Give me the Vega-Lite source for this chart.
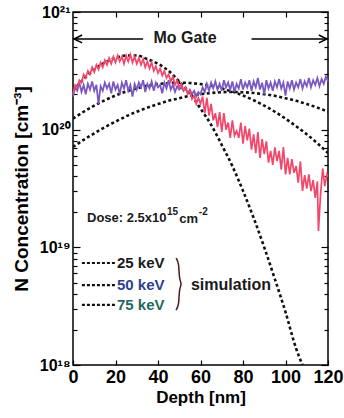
{
  "$schema": "https://vega.github.io/schema/vega-lite/v6.json",
  "width": 255,
  "height": 353,
  "autosize": {"type": "none"},
  "padding": {"left": 73, "top": 12, "right": 16, "bottom": 53},
  "background": "white",
  "config": {
    "view": {"stroke": "black", "strokeWidth": 1.5},
    "font": "Liberation Sans",
    "axis": {"domain": false, "grid": false, "tickColor": "black", "tickWidth": 1.2, "labelColor": "black", "titleColor": "black", "labelFont": "Liberation Sans", "titleFont": "Liberation Sans"}
  },
  "datasets": {
    "red": [
      {"depth": 0, "N": 2.00e20}, {"depth": 1, "N": 2.40e20}, {"depth": 2, "N": 2.29e20}, {"depth": 3, "N": 2.63e20}, {"depth": 4, "N": 2.51e20},
      {"depth": 5, "N": 2.95e20}, {"depth": 6, "N": 2.75e20}, {"depth": 7, "N": 3.16e20}, {"depth": 8, "N": 2.95e20}, {"depth": 9, "N": 3.39e20},
      {"depth": 10, "N": 3.09e20}, {"depth": 11, "N": 3.55e20}, {"depth": 12, "N": 3.24e20}, {"depth": 13, "N": 3.72e20}, {"depth": 14, "N": 3.39e20},
      {"depth": 15, "N": 3.89e20}, {"depth": 16, "N": 3.55e20}, {"depth": 17, "N": 4.07e20}, {"depth": 18, "N": 3.63e20}, {"depth": 19, "N": 4.17e20},
      {"depth": 20, "N": 3.72e20}, {"depth": 21, "N": 4.27e20}, {"depth": 22, "N": 3.80e20}, {"depth": 23, "N": 4.17e20}, {"depth": 24, "N": 3.63e20},
      {"depth": 25, "N": 4.27e20}, {"depth": 26, "N": 3.80e20}, {"depth": 27, "N": 4.37e20}, {"depth": 28, "N": 3.72e20}, {"depth": 29, "N": 4.17e20},
      {"depth": 30, "N": 3.63e20}, {"depth": 31, "N": 4.07e20}, {"depth": 32, "N": 3.55e20}, {"depth": 33, "N": 3.98e20}, {"depth": 34, "N": 3.39e20},
      {"depth": 35, "N": 3.80e20}, {"depth": 36, "N": 3.31e20}, {"depth": 37, "N": 3.72e20}, {"depth": 38, "N": 3.16e20}, {"depth": 39, "N": 3.47e20},
      {"depth": 40, "N": 3.02e20}, {"depth": 41, "N": 3.31e20}, {"depth": 42, "N": 2.88e20}, {"depth": 43, "N": 3.16e20}, {"depth": 44, "N": 2.75e20},
      {"depth": 45, "N": 2.95e20}, {"depth": 46, "N": 2.57e20}, {"depth": 47, "N": 2.82e20}, {"depth": 48, "N": 2.40e20}, {"depth": 49, "N": 2.63e20},
      {"depth": 50, "N": 2.29e20}, {"depth": 51, "N": 2.45e20}, {"depth": 52, "N": 2.14e20}, {"depth": 53, "N": 2.29e20}, {"depth": 54, "N": 2.00e20},
      {"depth": 55, "N": 2.14e20}, {"depth": 56, "N": 1.82e20}, {"depth": 57, "N": 1.95e20}, {"depth": 58, "N": 1.66e20}, {"depth": 59, "N": 1.86e20},
      {"depth": 60, "N": 1.66e20}, {"depth": 61, "N": 1.91e20}, {"depth": 62, "N": 1.38e20}, {"depth": 63, "N": 1.86e20}, {"depth": 64, "N": 1.32e20},
      {"depth": 65, "N": 1.66e20}, {"depth": 66, "N": 1.20e20}, {"depth": 67, "N": 1.38e20}, {"depth": 68, "N": 1.05e20}, {"depth": 69, "N": 1.41e20},
      {"depth": 70, "N": 9.55e19}, {"depth": 71, "N": 1.38e20}, {"depth": 72, "N": 1.00e20}, {"depth": 73, "N": 1.15e20}, {"depth": 74, "N": 8.51e19},
      {"depth": 75, "N": 1.20e20}, {"depth": 76, "N": 8.90e19}, {"depth": 77, "N": 9.77e19}, {"depth": 78, "N": 8.51e19}, {"depth": 79, "N": 1.15e20},
      {"depth": 80, "N": 7.59e19}, {"depth": 81, "N": 1.07e20}, {"depth": 82, "N": 8.10e19}, {"depth": 83, "N": 1.02e20}, {"depth": 84, "N": 6.76e19},
      {"depth": 85, "N": 9.12e19}, {"depth": 86, "N": 6.31e19}, {"depth": 87, "N": 9.55e19}, {"depth": 88, "N": 5.75e19}, {"depth": 89, "N": 8.32e19},
      {"depth": 90, "N": 6.20e19}, {"depth": 91, "N": 7.94e19}, {"depth": 92, "N": 5.25e19}, {"depth": 93, "N": 6.60e19}, {"depth": 94, "N": 5.01e19},
      {"depth": 95, "N": 7.08e19}, {"depth": 96, "N": 5.40e19}, {"depth": 97, "N": 6.61e19}, {"depth": 98, "N": 4.57e19}, {"depth": 99, "N": 7.10e19},
      {"depth": 100, "N": 4.17e19}, {"depth": 101, "N": 5.75e19}, {"depth": 102, "N": 4.17e19}, {"depth": 103, "N": 5.62e19}, {"depth": 104, "N": 4.30e19},
      {"depth": 105, "N": 4.90e19}, {"depth": 106, "N": 3.55e19}, {"depth": 107, "N": 5.37e19}, {"depth": 108, "N": 3.02e19}, {"depth": 109, "N": 4.10e19},
      {"depth": 110, "N": 3.16e19}, {"depth": 111, "N": 4.17e19}, {"depth": 112, "N": 3.00e19}, {"depth": 113, "N": 3.72e19}, {"depth": 114, "N": 2.63e19},
      {"depth": 115, "N": 3.63e19}, {"depth": 115.5, "N": 1.38e19}, {"depth": 116.5, "N": 2.82e19}, {"depth": 117.5, "N": 4.68e19}, {"depth": 118.5, "N": 3.31e19},
      {"depth": 119.5, "N": 4.17e19}, {"depth": 120, "N": 3.98e19}
    ],
    "purple": [
      {"depth": 0, "N": 1.91e20}, {"depth": 1, "N": 2.29e20}, {"depth": 2, "N": 2.14e20}, {"depth": 3, "N": 2.51e20}, {"depth": 4, "N": 2.09e20},
      {"depth": 5, "N": 2.40e20}, {"depth": 6, "N": 2.00e20}, {"depth": 7, "N": 2.45e20}, {"depth": 8, "N": 2.19e20}, {"depth": 9, "N": 2.57e20},
      {"depth": 10, "N": 2.14e20}, {"depth": 11, "N": 2.40e20}, {"depth": 12, "N": 1.66e20}, {"depth": 13, "N": 2.34e20}, {"depth": 14, "N": 2.14e20},
      {"depth": 15, "N": 2.51e20}, {"depth": 16, "N": 2.24e20}, {"depth": 17, "N": 2.45e20}, {"depth": 18, "N": 2.04e20}, {"depth": 19, "N": 2.57e20},
      {"depth": 20, "N": 2.19e20}, {"depth": 21, "N": 2.40e20}, {"depth": 22, "N": 2.00e20}, {"depth": 23, "N": 2.51e20}, {"depth": 24, "N": 2.24e20},
      {"depth": 25, "N": 2.63e20}, {"depth": 26, "N": 2.14e20}, {"depth": 27, "N": 2.40e20}, {"depth": 28, "N": 1.91e20}, {"depth": 29, "N": 2.45e20},
      {"depth": 30, "N": 2.19e20}, {"depth": 31, "N": 2.51e20}, {"depth": 32, "N": 2.29e20}, {"depth": 33, "N": 2.63e20}, {"depth": 34, "N": 2.09e20},
      {"depth": 35, "N": 2.45e20}, {"depth": 36, "N": 2.24e20}, {"depth": 37, "N": 2.57e20}, {"depth": 38, "N": 2.14e20}, {"depth": 39, "N": 2.51e20},
      {"depth": 40, "N": 2.29e20}, {"depth": 41, "N": 2.40e20}, {"depth": 42, "N": 2.04e20}, {"depth": 43, "N": 2.51e20}, {"depth": 44, "N": 2.24e20},
      {"depth": 45, "N": 2.63e20}, {"depth": 46, "N": 2.19e20}, {"depth": 47, "N": 2.40e20}, {"depth": 48, "N": 2.09e20}, {"depth": 49, "N": 2.34e20},
      {"depth": 50, "N": 2.19e20}, {"depth": 51, "N": 2.29e20}, {"depth": 52, "N": 2.14e20}, {"depth": 53, "N": 2.24e20}, {"depth": 54, "N": 2.04e20},
      {"depth": 55, "N": 2.19e20}, {"depth": 56, "N": 2.00e20}, {"depth": 57, "N": 2.14e20}, {"depth": 58, "N": 1.91e20}, {"depth": 59, "N": 2.09e20},
      {"depth": 60, "N": 2.00e20}, {"depth": 61, "N": 2.29e20}, {"depth": 62, "N": 2.09e20}, {"depth": 63, "N": 2.45e20}, {"depth": 64, "N": 2.14e20},
      {"depth": 65, "N": 2.51e20}, {"depth": 66, "N": 2.24e20}, {"depth": 67, "N": 2.57e20}, {"depth": 68, "N": 2.19e20}, {"depth": 69, "N": 2.45e20},
      {"depth": 70, "N": 2.14e20}, {"depth": 71, "N": 2.63e20}, {"depth": 72, "N": 2.29e20}, {"depth": 73, "N": 2.51e20}, {"depth": 74, "N": 2.19e20},
      {"depth": 75, "N": 2.57e20}, {"depth": 76, "N": 2.09e20}, {"depth": 77, "N": 2.45e20}, {"depth": 78, "N": 2.24e20}, {"depth": 79, "N": 2.69e20},
      {"depth": 80, "N": 2.19e20}, {"depth": 81, "N": 2.51e20}, {"depth": 82, "N": 2.29e20}, {"depth": 83, "N": 2.63e20}, {"depth": 84, "N": 2.14e20},
      {"depth": 85, "N": 2.57e20}, {"depth": 86, "N": 2.29e20}, {"depth": 87, "N": 2.75e20}, {"depth": 88, "N": 2.19e20}, {"depth": 89, "N": 2.51e20},
      {"depth": 90, "N": 2.00e20}, {"depth": 91, "N": 2.63e20}, {"depth": 92, "N": 2.24e20}, {"depth": 93, "N": 2.51e20}, {"depth": 94, "N": 2.14e20},
      {"depth": 95, "N": 2.57e20}, {"depth": 96, "N": 2.29e20}, {"depth": 97, "N": 2.69e20}, {"depth": 98, "N": 2.24e20}, {"depth": 99, "N": 2.51e20},
      {"depth": 100, "N": 1.95e20}, {"depth": 101, "N": 2.57e20}, {"depth": 102, "N": 2.24e20}, {"depth": 103, "N": 2.63e20}, {"depth": 104, "N": 2.19e20},
      {"depth": 105, "N": 2.51e20}, {"depth": 106, "N": 2.29e20}, {"depth": 107, "N": 2.69e20}, {"depth": 108, "N": 2.24e20}, {"depth": 109, "N": 2.57e20},
      {"depth": 110, "N": 2.34e20}, {"depth": 111, "N": 2.75e20}, {"depth": 112, "N": 2.29e20}, {"depth": 113, "N": 2.63e20}, {"depth": 114, "N": 2.40e20},
      {"depth": 115, "N": 2.75e20}, {"depth": 116, "N": 2.34e20}, {"depth": 117, "N": 2.69e20}, {"depth": 118, "N": 2.45e20}, {"depth": 119, "N": 2.82e20},
      {"depth": 120, "N": 2.57e20}
    ],
    "sim": [
      {"E": "25 keV", "depth": 0, "N": 2.14e20}, {"E": "25 keV", "depth": 5, "N": 2.69e20}, {"E": "25 keV", "depth": 10, "N": 3.24e20},
      {"E": "25 keV", "depth": 15, "N": 3.72e20}, {"E": "25 keV", "depth": 20, "N": 4.07e20}, {"E": "25 keV", "depth": 25, "N": 4.27e20},
      {"E": "25 keV", "depth": 30, "N": 4.27e20}, {"E": "25 keV", "depth": 35, "N": 3.98e20}, {"E": "25 keV", "depth": 40, "N": 3.63e20},
      {"E": "25 keV", "depth": 45, "N": 3.16e20}, {"E": "25 keV", "depth": 50, "N": 2.57e20}, {"E": "25 keV", "depth": 55, "N": 2.04e20},
      {"E": "25 keV", "depth": 60, "N": 1.51e20}, {"E": "25 keV", "depth": 65, "N": 1.10e20}, {"E": "25 keV", "depth": 70, "N": 7.41e19},
      {"E": "25 keV", "depth": 75, "N": 4.90e19}, {"E": "25 keV", "depth": 80, "N": 3.02e19}, {"E": "25 keV", "depth": 85, "N": 1.78e19},
      {"E": "25 keV", "depth": 90, "N": 1.00e19}, {"E": "25 keV", "depth": 95, "N": 5.37e18}, {"E": "25 keV", "depth": 100, "N": 2.82e18},
      {"E": "25 keV", "depth": 105, "N": 1.38e18}, {"E": "25 keV", "depth": 108, "N": 1.00e18},
      {"E": "50 keV", "depth": 0, "N": 1.24e20}, {"E": "50 keV", "depth": 5, "N": 1.42e20}, {"E": "50 keV", "depth": 10, "N": 1.60e20},
      {"E": "50 keV", "depth": 15, "N": 1.78e20}, {"E": "50 keV", "depth": 20, "N": 1.95e20}, {"E": "50 keV", "depth": 25, "N": 2.11e20},
      {"E": "50 keV", "depth": 30, "N": 2.24e20}, {"E": "50 keV", "depth": 35, "N": 2.36e20}, {"E": "50 keV", "depth": 40, "N": 2.44e20},
      {"E": "50 keV", "depth": 45, "N": 2.49e20}, {"E": "50 keV", "depth": 50, "N": 2.51e20}, {"E": "50 keV", "depth": 55, "N": 2.49e20},
      {"E": "50 keV", "depth": 60, "N": 2.44e20}, {"E": "50 keV", "depth": 65, "N": 2.36e20}, {"E": "50 keV", "depth": 70, "N": 2.24e20},
      {"E": "50 keV", "depth": 75, "N": 2.11e20}, {"E": "50 keV", "depth": 80, "N": 1.95e20}, {"E": "50 keV", "depth": 85, "N": 1.78e20},
      {"E": "50 keV", "depth": 90, "N": 1.60e20}, {"E": "50 keV", "depth": 95, "N": 1.42e20}, {"E": "50 keV", "depth": 100, "N": 1.24e20},
      {"E": "50 keV", "depth": 105, "N": 1.07e20}, {"E": "50 keV", "depth": 110, "N": 9.14e19}, {"E": "50 keV", "depth": 115, "N": 7.67e19},
      {"E": "50 keV", "depth": 120, "N": 6.34e19},
      {"E": "75 keV", "depth": 0, "N": 7.13e19}, {"E": "75 keV", "depth": 5, "N": 8.19e19}, {"E": "75 keV", "depth": 10, "N": 9.31e19},
      {"E": "75 keV", "depth": 15, "N": 1.05e20}, {"E": "75 keV", "depth": 20, "N": 1.17e20}, {"E": "75 keV", "depth": 25, "N": 1.30e20},
      {"E": "75 keV", "depth": 30, "N": 1.42e20}, {"E": "75 keV", "depth": 35, "N": 1.54e20}, {"E": "75 keV", "depth": 40, "N": 1.65e20},
      {"E": "75 keV", "depth": 45, "N": 1.76e20}, {"E": "75 keV", "depth": 50, "N": 1.85e20}, {"E": "75 keV", "depth": 55, "N": 1.94e20},
      {"E": "75 keV", "depth": 60, "N": 2.00e20}, {"E": "75 keV", "depth": 65, "N": 2.05e20}, {"E": "75 keV", "depth": 70, "N": 2.08e20},
      {"E": "75 keV", "depth": 75, "N": 2.09e20}, {"E": "75 keV", "depth": 80, "N": 2.08e20}, {"E": "75 keV", "depth": 85, "N": 2.05e20},
      {"E": "75 keV", "depth": 90, "N": 2.00e20}, {"E": "75 keV", "depth": 95, "N": 1.94e20}, {"E": "75 keV", "depth": 100, "N": 1.85e20},
      {"E": "75 keV", "depth": 105, "N": 1.76e20}, {"E": "75 keV", "depth": 110, "N": 1.65e20}, {"E": "75 keV", "depth": 115, "N": 1.54e20},
      {"E": "75 keV", "depth": 120, "N": 1.42e20}
    ],
    "arrows": [
      {"part": "left", "i": 0, "depth": 0.5, "N": 5.9e20}, {"part": "left", "i": 1, "depth": 33, "N": 5.9e20},
      {"part": "leftHead", "i": 0, "depth": 4.3, "N": 6.38e20}, {"part": "leftHead", "i": 1, "depth": 0.5, "N": 5.9e20}, {"part": "leftHead", "i": 2, "depth": 4.3, "N": 5.46e20},
      {"part": "right", "i": 0, "depth": 84, "N": 5.9e20}, {"part": "right", "i": 1, "depth": 119.5, "N": 5.9e20},
      {"part": "rightHead", "i": 0, "depth": 115.7, "N": 6.38e20}, {"part": "rightHead", "i": 1, "depth": 119.5, "N": 5.9e20}, {"part": "rightHead", "i": 2, "depth": 115.7, "N": 5.46e20}
    ],
    "legendDashes": [
      {"E": "25 keV", "i": 0, "depth": 4.2, "N": 7.36e18}, {"E": "25 keV", "i": 1, "depth": 19.8, "N": 7.36e18},
      {"E": "50 keV", "i": 0, "depth": 4.2, "N": 4.78e18}, {"E": "50 keV", "i": 1, "depth": 19.8, "N": 4.78e18},
      {"E": "75 keV", "i": 0, "depth": 4.2, "N": 3.24e18}, {"E": "75 keV", "i": 1, "depth": 19.8, "N": 3.24e18}
    ],
    "legendText": [
      {"E": "25 keV", "depth": 20.7, "N": 7.36e18},
      {"E": "50 keV", "depth": 20.7, "N": 4.78e18},
      {"E": "75 keV", "depth": 20.7, "N": 3.24e18}
    ],
    "brace": [
      {"i": 0, "depth": 48.5, "N": 8.11e18}, {"i": 1, "depth": 49.9, "N": 7.36e18}, {"i": 2, "depth": 49.9, "N": 5.38e18},
      {"i": 3, "depth": 51.3, "N": 4.88e18}, {"i": 4, "depth": 49.9, "N": 4.43e18}, {"i": 5, "depth": 49.9, "N": 3.24e18},
      {"i": 6, "depth": 48.5, "N": 2.93e18}
    ],
    "title": [
      {"t": "Mo Gate", "depth": 52.7, "N": 6.0e20}
    ],
    "notes": [
      {"t": "simulation", "depth": 55.5, "N": 4.83e18, "size": 16},
      {"t": "Dose: 2.5x10", "depth": 6.6, "N": 1.77e19, "size": 13},
      {"t": "cm", "depth": 50.0, "N": 1.74e19, "size": 13}
    ],
    "supers": [
      {"t": "15", "depth": 44.2, "N": 1.98e19},
      {"t": "-2", "depth": 59.2, "N": 1.98e19}
    ]
  },
  "encoding": {
    "x": {"field": "depth", "type": "quantitative", "scale": {"domain": [0, 120], "nice": false, "zero": false}, "axis": null},
    "y": {"field": "N", "type": "quantitative", "scale": {"type": "log", "domain": [1e18, 1e21], "nice": false}, "axis": null}
  },
  "layer": [
    {
      "data": {"name": "sim"},
      "mark": {"type": "line", "color": "#111111", "strokeWidth": 2.6, "strokeDash": [3, 2.6], "interpolate": "monotone", "clip": true},
      "encoding": {
        "detail": {"field": "E"},
        "x": {"field": "depth", "type": "quantitative", "axis": {"orient": "bottom", "values": [0, 20, 40, 60, 80, 100, 120], "title": "Depth [nm]", "labelFontSize": 18, "labelFontWeight": "bold", "labelFlush": false, "tickSize": -5, "labelPadding": 8, "titleFontSize": 17, "titleFontWeight": "bold", "titlePadding": 3}},
        "y": {"field": "N", "type": "quantitative", "axis": {"orient": "left", "values": [1e18, 1e19, 1e20, 1e21], "labelExpr": "datum.value > 5e20 ? '10²¹' : datum.value > 5e19 ? '10²⁰' : datum.value > 5e18 ? '10¹⁹' : '10¹⁸'", "labelFontSize": 16, "labelFontWeight": "bold", "tickSize": -7, "labelPadding": 10, "title": "N Concentration [cm⁻³]", "titleFontSize": 19, "titleFontWeight": "bold", "titlePadding": 8}}
      }
    },
    {
      "data": {"name": "purple"},
      "mark": {"type": "line", "color": "#7a5ac2", "strokeWidth": 1.8},
      "encoding": {
        "x": {"field": "depth", "type": "quantitative", "axis": {"orient": "top", "values": [20, 40, 60, 80, 100], "labels": false, "title": null, "tickSize": -5}},
        "y": {"field": "N", "type": "quantitative", "axis": {"orient": "right", "values": [1e18, 1e19, 1e20, 1e21], "labels": false, "title": null, "tickSize": -7}}
      }
    },
    {
      "data": {"name": "red"},
      "mark": {"type": "line", "color": "#f2466a", "strokeWidth": 1.7},
      "encoding": {
        "y": {"field": "N", "type": "quantitative", "axis": {"orient": "left", "values": [2e18, 3e18, 4e18, 5e18, 6e18, 7e18, 8e18, 9e18, 2e19, 3e19, 4e19, 5e19, 6e19, 7e19, 8e19, 9e19, 2e20, 3e20, 4e20, 5e20, 6e20, 7e20, 8e20, 9e20], "labels": false, "title": null, "tickSize": -4}}
      }
    },
    {
      "data": {"name": "arrows"},
      "mark": {"type": "line", "color": "black", "strokeWidth": 1.5},
      "encoding": {
        "detail": {"field": "part"},
        "order": {"field": "i", "type": "quantitative"},
        "y": {"field": "N", "type": "quantitative", "axis": {"orient": "right", "values": [2e18, 3e18, 4e18, 5e18, 6e18, 7e18, 8e18, 9e18, 2e19, 3e19, 4e19, 5e19, 6e19, 7e19, 8e19, 9e19, 2e20, 3e20, 4e20, 5e20, 6e20, 7e20, 8e20, 9e20], "labels": false, "title": null, "tickSize": -4}}
      }
    },
    {
      "data": {"name": "legendDashes"},
      "mark": {"type": "line", "color": "#111111", "strokeWidth": 2.2, "strokeDash": [3, 2]},
      "encoding": {"detail": {"field": "E"}, "order": {"field": "i", "type": "quantitative"}}
    },
    {
      "data": {"name": "legendText"},
      "mark": {"type": "text", "align": "left", "baseline": "middle", "fontSize": 15, "fontWeight": "bold"},
      "encoding": {
        "text": {"field": "E"},
        "color": {"field": "E", "type": "nominal", "scale": {"domain": ["25 keV", "50 keV", "75 keV"], "range": ["#1a1a1a", "#2e3f8e", "#1f6a5a"]}, "legend": null}
      }
    },
    {
      "data": {"name": "brace"},
      "mark": {"type": "line", "color": "#4a1c1c", "strokeWidth": 1.5, "interpolate": "basis"},
      "encoding": {"order": {"field": "i", "type": "quantitative"}}
    },
    {
      "data": {"name": "title"},
      "mark": {"type": "text", "align": "center", "baseline": "middle", "fontSize": 16, "fontWeight": "bold", "color": "#1a1a1a"},
      "encoding": {"text": {"field": "t"}}
    },
    {
      "data": {"name": "notes"},
      "mark": {"type": "text", "align": "left", "baseline": "middle", "fontWeight": "bold", "color": "#1a1a1a"},
      "encoding": {
        "text": {"field": "t"},
        "size": {"field": "size", "type": "quantitative", "scale": null}
      }
    },
    {
      "data": {"name": "supers"},
      "mark": {"type": "text", "align": "left", "baseline": "middle", "fontSize": 10, "fontWeight": "bold", "color": "#1a1a1a"},
      "encoding": {"text": {"field": "t"}}
    }
  ],
  "resolve": {"axis": {"x": "independent", "y": "independent"}}
}
